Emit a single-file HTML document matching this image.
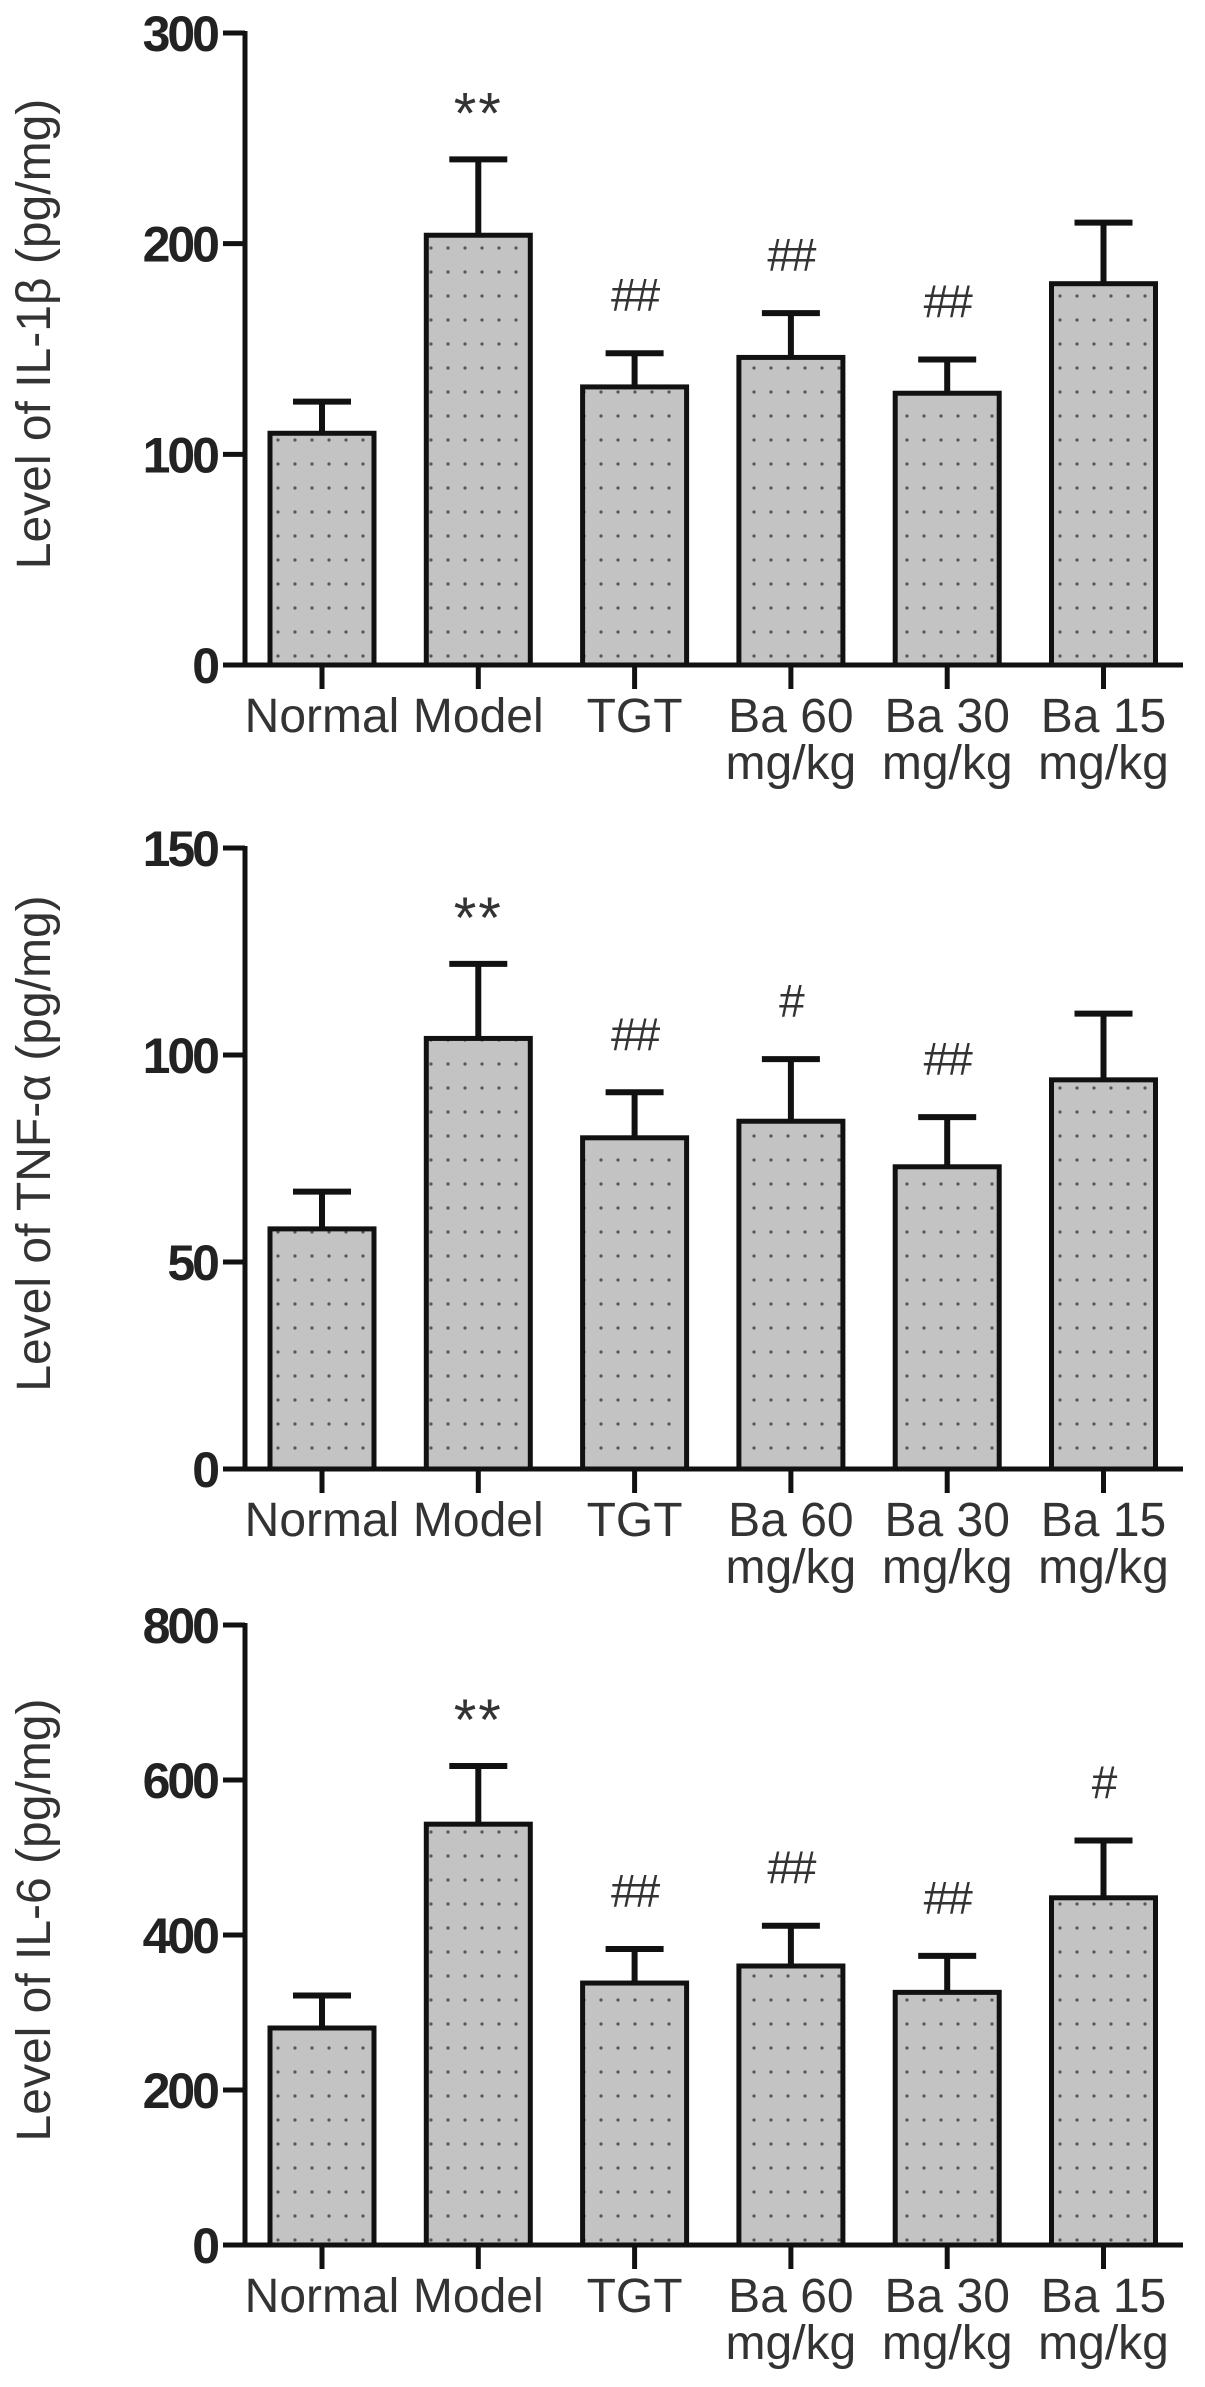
<!DOCTYPE html>
<html><head><meta charset="utf-8"><style>
html,body{margin:0;padding:0;background:#fff;}
svg{display:block;font-family:"Liberation Sans",sans-serif;}
</style></head><body>
<svg id="fig" width="1205" height="2387" viewBox="0 0 1205 2387" xmlns="http://www.w3.org/2000/svg">
<defs>
<pattern id="dots" width="17" height="24" patternUnits="userSpaceOnUse">
<rect width="17" height="24" fill="#c3c3c3"/>
<circle cx="6" cy="8" r="1.6" fill="#555"/>
</pattern>
</defs>
</svg>
<script>
const categories = ["Normal","Model","TGT","Ba 60|mg/kg","Ba 30|mg/kg","Ba 15|mg/kg"];
const il1bMeans = [110,204,132,146,129,181];
const il1bUpper = [125,240,148,167,145,210];
const il1bMarks = ["","**","##","##","##",""];
const tnfMeans = [58,104,80,84,73,94];
const tnfUpper = [67,122,91,99,85,110];
const tnfMarks = ["","**","##","#","##",""];
const il6Means = [280,543,338,360,326,448];
const il6Upper = [322,618,382,412,373,522];
const il6Marks = ["","**","##","##","##","#"];
const il1bTicks = [0,100,200,300];
const tnfTicks = [0,50,100,150];
const il6Ticks = [0,200,400,600,800];

const NS = "http://www.w3.org/2000/svg";
const svg = document.getElementById('fig');
function mk(tag, attrs, parent){
  const e = document.createElementNS(NS, tag);
  for (const k in attrs) e.setAttribute(k, attrs[k]);
  (parent||svg).appendChild(e);
  return e;
}
const AX = 245, AXEND = 1183;
const centers = categories.map((c,i)=>322 + i*156.3);

function panel(name, title, top, y0, ticks, means, upper, marks){
  const g = mk('g', {});
  
  
  const ymax = ticks[ticks.length-1];
  const y = v => y0 - (v/ymax)*(y0-top);
  means.forEach((m,i)=>{
    const cx = centers[i];
    const b = mk('rect', {x:cx-52, y:y(m), width:104, height:y0-y(m), fill:'url(#dots)', stroke:'#111', 'stroke-width':5}, g);
    
    
    const e = mk('line', {x1:cx, x2:cx, y1:y(m), y2:y(upper[i]), stroke:'#111', 'stroke-width':6}, g);
    
    
    mk('line', {x1:cx-29, x2:cx+29, y1:y(upper[i]), y2:y(upper[i]), stroke:'#111', 'stroke-width':6}, g);
    if (marks[i]) {
      const isStar = marks[i]==='**';
      const t = mk('text', {x:cx, y:y(upper[i]) - (isStar?26:42), 'text-anchor':'middle', 'font-size': isStar?58:46, fill:'#333', 'letter-spacing': isStar?'2':'-2'}, g);
      t.textContent = marks[i];
      
      
    }
  });
  const ya = mk('line', {x1:AX, x2:AX, y1:top-2, y2:y0+2, stroke:'#111', 'stroke-width':5}, g);
  
  
  const xa = mk('line', {x1:AX-20, x2:AXEND, y1:y0, y2:y0, stroke:'#111', 'stroke-width':5}, g);
  
  
  ticks.forEach(tv=>{
    mk('line', {x1:AX-22, x2:AX, y1:y(tv), y2:y(tv), stroke:'#111', 'stroke-width':5}, g);
    const t = mk('text', {x:217, y:y(tv)+18, 'text-anchor':'end', 'font-size':50, 'font-weight':'bold', fill:'#222', 'letter-spacing':'-3'}, g);
    t.textContent = tv;
    
    
  });
  categories.forEach((c,i)=>{
    const cx = centers[i];
    mk('line', {x1:cx, x2:cx, y1:y0, y2:y0+24, stroke:'#111', 'stroke-width':5}, g);
    const parts = c.split('|');
    const t = mk('text', {x:cx, y:y0+67, 'text-anchor':'middle', 'font-size':48, fill:'#333'}, g);
    
    
    parts.forEach((p,j)=>{
      const ts = mk('tspan', {x:cx, dy: j===0?0:47}, t);
      ts.textContent = p;
    });
  });
  const mid = (top+y0)/2 - 15;
  const yl = mk('text', {x:0, y:0, transform:`translate(50 ${mid}) rotate(-90)`, 'text-anchor':'middle', 'font-size':48, fill:'#333'}, g);
  yl.textContent = title;
  
  
}
panel('il1b', 'Level of IL-1β (pg/mg)', 33, 665, il1bTicks, il1bMeans, il1bUpper, il1bMarks);
panel('tnf', 'Level of TNF-α (pg/mg)', 848, 1469, tnfTicks, tnfMeans, tnfUpper, tnfMarks);
panel('il6', 'Level of IL-6 (pg/mg)', 1625, 2245, il6Ticks, il6Means, il6Upper, il6Marks);
</script>
</body></html>
